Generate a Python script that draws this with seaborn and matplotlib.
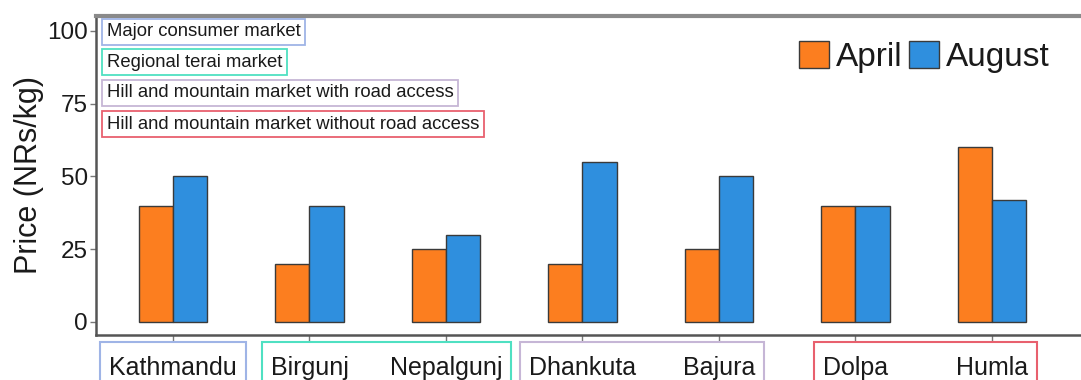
import matplotlib
matplotlib.use("Agg")
import matplotlib.pyplot as plt
from matplotlib.patches import Rectangle
import seaborn as sns
import pandas as pd

# --- data -------------------------------------------------------------
markets = ["Kathmandu", "Birgunj", "Nepalgunj", "Dhankuta", "Bajura", "Dolpa", "Humla"]
april = [40, 20, 25, 20, 25, 40, 60]
august = [50, 40, 30, 55, 50, 40, 42]
months = ["April", "August"]

market_types = [
    "Major consumer market",
    "Regional terai market",
    "Hill and mountain market with road access",
    "Hill and mountain market without road access",
]
market_type_of = [0, 1, 1, 2, 2, 3, 3]
y_ticks = [0, 25, 50, 75, 100]

# --- styling ----------------------------------------------------------
bar_colors = ["#FC7E1F", "#2F8FDE"]
type_colors = ["#9FB4E6", "#4FE0C2", "#C6B6D6", "#E8606E"]

sns.set_theme(style="white")
plt.rcParams["font.family"] = ["Liberation Sans", "DejaVu Sans"]

df = pd.DataFrame({
    "Market": markets * 2,
    "Month": [months[0]] * len(markets) + [months[1]] * len(markets),
    "Price": april + august,
})

W, H = 1081, 380
fig = plt.figure(figsize=(W / 100, H / 100), dpi=100)
ax = fig.add_axes([96 / W, (H - 335) / H, 0.92, (335 - 16) / H])

sns.barplot(data=df, x="Market", y="Price", hue="Month", order=markets,
            hue_order=months, palette=bar_colors, width=0.5,
            edgecolor="#3a3a3a", linewidth=1.0, saturation=1, ax=ax)

ax.set_xlim(-0.564, 6.722)
ax.set_ylim(-4.47, 105.15)
ax.set_yticks(y_ticks)
ax.set_xlabel("")
ax.set_ylabel("Price (NRs/kg)", fontsize=22, labelpad=2, color="#1a1a1a")
ax.tick_params(axis="y", labelsize=17.5, length=4, width=1, color="#777777",
               left=True, pad=2, labelcolor="#1a1a1a")
ax.tick_params(axis="x", labelsize=18, length=4, width=1, color="#777777",
               bottom=True, pad=11, labelcolor="#1a1a1a")

for side in ["left", "bottom"]:
    ax.spines[side].set_color("#555555")
    ax.spines[side].set_linewidth(1.8)
ax.spines["top"].set_color("#8a8a8a")
ax.spines["top"].set_linewidth(3)
ax.spines["right"].set_visible(False)

# legend for months
handles, labels = ax.get_legend_handles_labels()
if ax.get_legend() is not None:
    ax.get_legend().remove()
ax.legend(handles, labels, loc="center left",
          bbox_to_anchor=(799 / W, 1 - 57 / H), bbox_transform=fig.transFigure,
          ncol=2, frameon=False, fontsize=24, handlelength=0.9,
          handleheight=0.85, handletextpad=0.2, columnspacing=0.2,
          borderpad=0, borderaxespad=0, labelcolor="#1a1a1a")

# key of market types in the upper-left corner
type_y = [99.7, 89.3, 78.7, 68.0]
for name, yv, col in zip(market_types, type_y, type_colors):
    ax.text(0.011, yv, name, transform=ax.get_yaxis_transform(),
            fontsize=13.3, va="center", ha="left", color="#1a1a1a",
            bbox=dict(boxstyle="square,pad=0.25", fc="white", ec=col, lw=1.3))

# outline each market type's labels under the x axis
fig.canvas.draw()
renderer = fig.canvas.get_renderer()
tick_boxes = [t.get_window_extent(renderer) for t in ax.get_xticklabels()]
pad = 9
top = (H - 342) / H
for k, col in enumerate(type_colors):
    members = [b for b, g in zip(tick_boxes, market_type_of) if g == k]
    x0 = min(b.x0 for b in members) - pad
    x1 = max(b.x1 for b in members) + pad
    fig.patches.append(Rectangle((x0 / W, -0.05), (x1 - x0) / W, top + 0.05,
                                 transform=fig.transFigure, fill=False,
                                 ec=col, lw=1.5, figure=fig))

fig.savefig("out.png", dpi=100)
